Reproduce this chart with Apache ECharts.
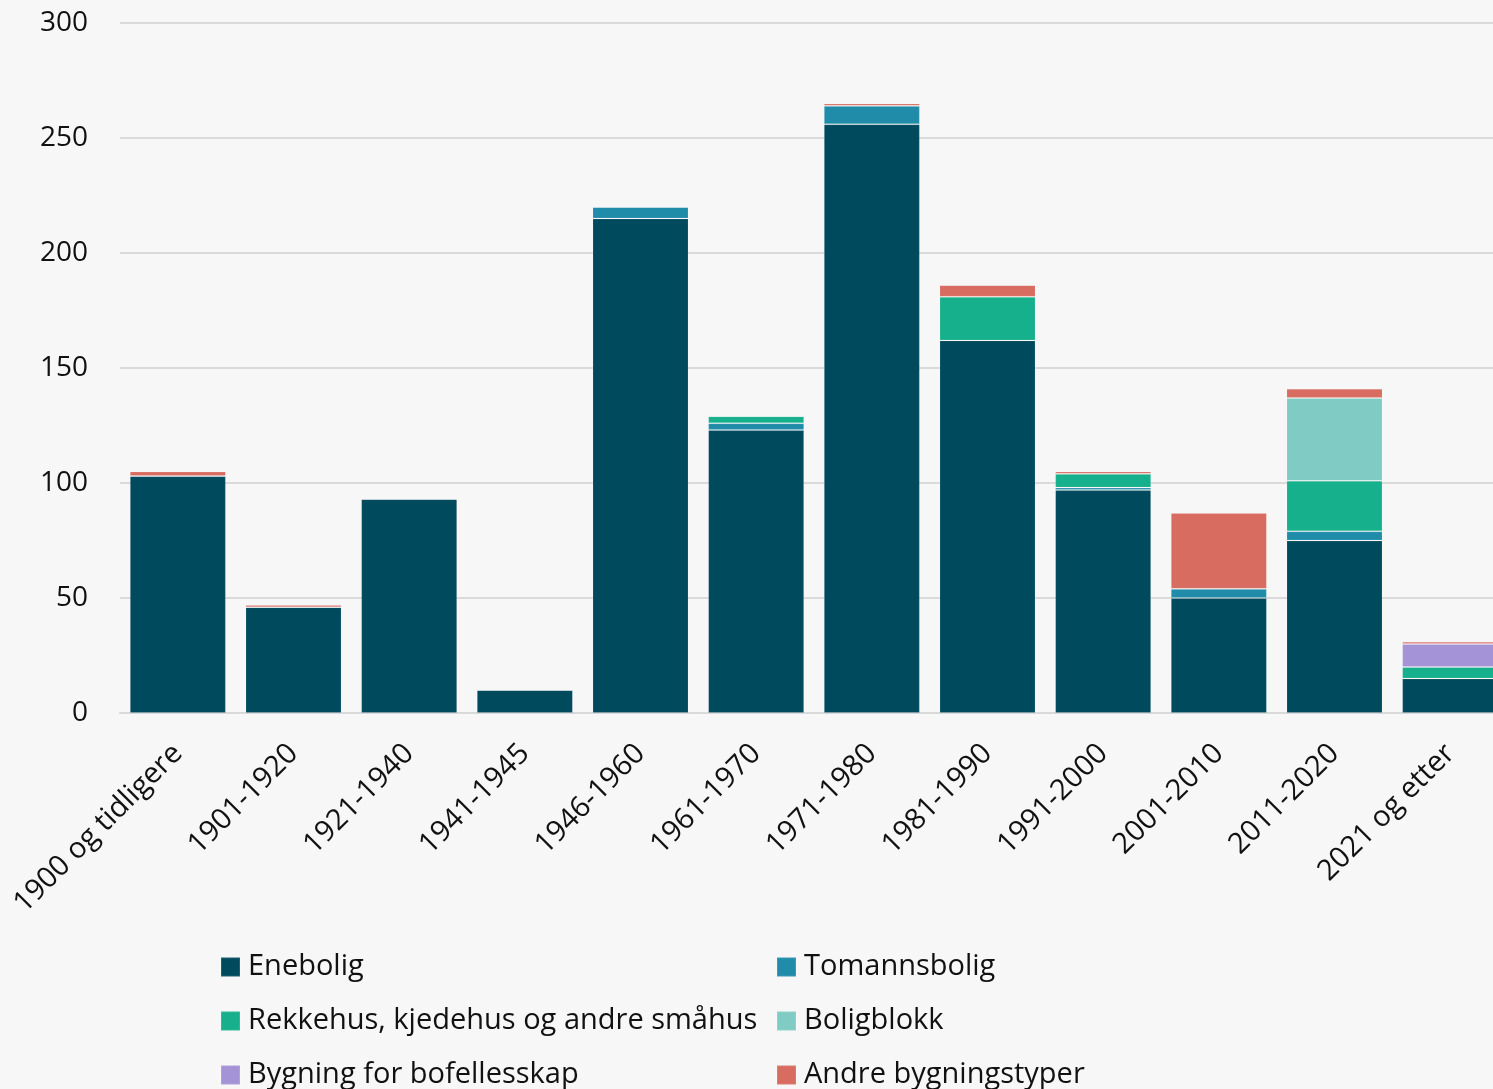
<!DOCTYPE html>
<html>
<head>
<meta charset="utf-8">
<script src="https://cdn.jsdelivr.net/npm/echarts@6/dist/echarts.min.js"></script>
<style>
html,body{margin:0;padding:0;background:#F7F7F7;}
#c{width:1493px;height:1089px;}
</style>
</head>
<body>
<div id="c"></div>
<script>
const categories = ['1900 og tidligere','1901-1920','1921-1940','1941-1945','1946-1960','1961-1970','1971-1980','1981-1990','1991-2000','2001-2010','2011-2020','2021 og etter'];
const enebolig      = [103, 46, 93, 10, 215, 123, 256, 162, 97, 50, 75, 15];
const tomannsbolig  = [0, 0, 0, 0, 5, 3, 8, 0, 1, 4, 4, 0];
const rekkehus      = [0, 0, 0, 0, 0, 3, 0, 19, 6, 0, 22, 5];
const boligblokk    = [0, 0, 0, 0, 0, 0, 0, 0, 0, 0, 36, 0];
const bofellesskap  = [0, 0, 0, 0, 0, 0, 0, 0, 0, 0, 0, 10];
const andre         = [2, 1, 0, 0, 0, 0, 1, 5, 1, 33, 4, 1];
const yTicks = {min: 0, max: 300, interval: 50};

const seriesDefs = [
  {name: 'Enebolig', data: enebolig, color: '#004A5E'},
  {name: 'Tomannsbolig', data: tomannsbolig, color: '#218CAA'},
  {name: 'Rekkehus, kjedehus og andre småhus', data: rekkehus, color: '#17B08C'},
  {name: 'Boligblokk', data: boligblokk, color: '#80CBC4'},
  {name: 'Bygning for bofellesskap', data: bofellesskap, color: '#A593D8'},
  {name: 'Andre bygningstyper', data: andre, color: '#D86C60'}
];

const FONT = '"Open Sans", sans-serif';
const legendBase = {
  left: 215, orient: 'horizontal', itemWidth: 19, itemHeight: 19, itemGap: 12,
  icon: 'rect', selectedMode: false,
  textStyle: {fontFamily: FONT, fontSize: 29, color: '#111', width: 516, lineHeight: 36, padding: [0,0,0,3]}
};

const chart = echarts.init(document.getElementById('c'), null, {renderer: 'canvas'});
chart.setOption({
  backgroundColor: '#F7F7F7',
  animation: false,
  grid: {left: 120, width: 1388, top: 23, bottom: 376, containLabel: false, outerBoundsMode: 'none'},
  legend: [
    Object.assign({}, legendBase, {top: 944, data: ['Enebolig', 'Tomannsbolig']}),
    Object.assign({}, legendBase, {top: 998, data: ['Rekkehus, kjedehus og andre småhus', 'Boligblokk']}),
    Object.assign({}, legendBase, {top: 1052, data: ['Bygning for bofellesskap', 'Andre bygningstyper']})
  ],
  xAxis: {
    type: 'category', data: categories,
    axisLine: {lineStyle: {color: '#D9D9D9', width: 2}},
    axisTick: {show: false},
    axisLabel: {rotate: 45, interval: 0, margin: 36, fontFamily: FONT, fontSize: 29, color: '#111'}
  },
  yAxis: {
    type: 'value', min: yTicks.min, max: yTicks.max, interval: yTicks.interval,
    axisLine: {show: false}, axisTick: {show: false},
    axisLabel: {margin: 32, fontFamily: FONT, fontSize: 28, color: '#111'},
    splitLine: {lineStyle: {color: '#DADADA', width: 2}}
  },
  series: seriesDefs.map(s => ({
    name: s.name, type: 'bar', stack: 'total', data: s.data, barWidth: 96,
    itemStyle: {color: s.color, borderColor: 'rgba(255,255,255,0.12)', borderWidth: 1}
  }))
});
</script>
</body>
</html>
